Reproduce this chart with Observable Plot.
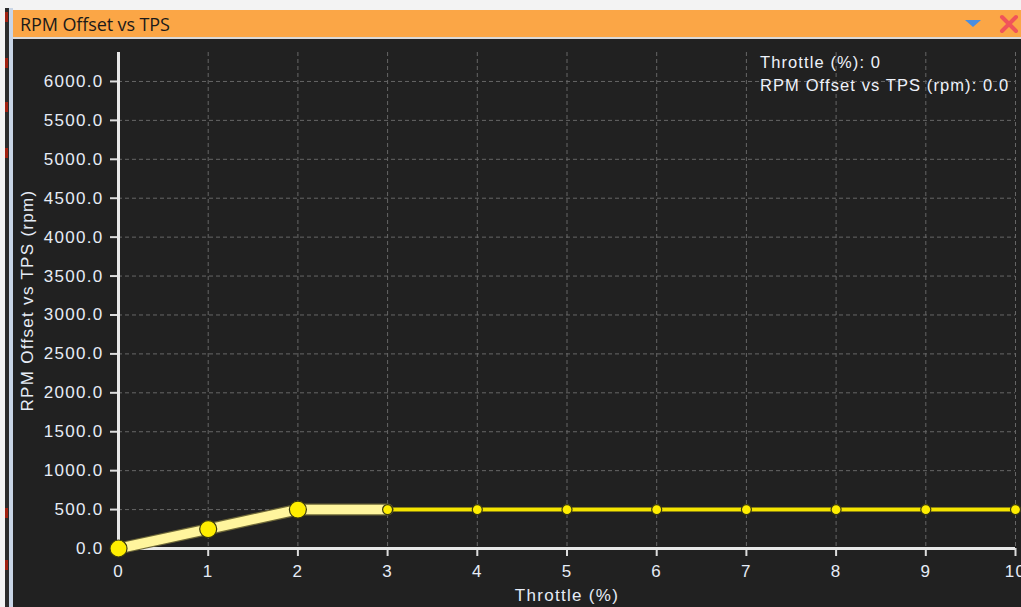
<!DOCTYPE html>
<html>
<head>
<meta charset="utf-8">
<script src="https://cdn.jsdelivr.net/npm/d3@7"></script>
<script src="https://cdn.jsdelivr.net/npm/@observablehq/plot@0.6"></script>
<style>
  body { margin:0; width:1021px; height:607px; overflow:hidden; background:#f3f3f3; position:relative; font-family:"Liberation Sans", Arial, sans-serif; }
  #leftstrip { position:absolute; left:5px; top:8px; width:4px; height:599px; background:#2b2b2b; }
  .redmark { position:absolute; left:5px; width:3px; height:10px; background:#a02010; }
  #border { position:absolute; left:9px; top:8px; width:4px; height:599px; background:#c8d5e6; }
  #titlebar { position:absolute; left:13px; top:10px; width:1008px; height:27px; background:#fba646; }
  #titlebar .t { position:absolute; left:7px; top:2px; font-size:18px; color:#1a1a1a; font-family:"Open Sans", "Liberation Sans", sans-serif; letter-spacing:-0.1px; }
  #sep { position:absolute; left:13px; top:37px; width:1008px; height:2px; background:#d9d9d9; }
  #chart { position:absolute; left:13px; top:39px; }
  #chart text { letter-spacing:1.3px; }
  #readout { position:absolute; left:760px; top:51px; color:#eef2fa; font-size:16.5px; line-height:23px; letter-spacing:1.1px; white-space:nowrap; }
</style>
</head>
<body>
<div id="leftstrip"></div>
<div class="redmark" style="top:12px"></div>
<div class="redmark" style="top:58px"></div>
<div class="redmark" style="top:102px"></div>
<div class="redmark" style="top:148px"></div>
<div class="redmark" style="top:508px"></div>
<div class="redmark" style="top:560px"></div>
<div id="border"></div>
<div id="titlebar">
  <span class="t">RPM Offset vs TPS</span>
  <svg style="position:absolute;left:950px;top:8px" width="20" height="12"><polygon points="2,2 18,2 10,9" fill="#4a8ee0"/></svg>
  <svg style="position:absolute;left:986px;top:4px" width="20" height="20"><path d="M3,3 L17,17 M17,3 L3,17" stroke="#f0545a" stroke-width="4" stroke-linecap="round"/></svg>
</div>
<div id="sep"></div>
<div id="chart"></div>
<div id="readout">Throttle (%): 0<br>RPM Offset vs TPS (rpm): 0.0</div>
<script>
const throttle = [0, 1, 2, 3, 4, 5, 6, 7, 8, 9, 10];
const rpm = [0, 250, 500, 500, 500, 500, 500, 500, 500, 500, 500];
const selected = [0, 1, 2];
const yTicks = [0, 500, 1000, 1500, 2000, 2500, 3000, 3500, 4000, 4500, 5000, 5500, 6000];
const xTicks = [0, 1, 2, 3, 4, 5, 6, 7, 8, 9, 10];

const data = throttle.map((x, i) => ({x, y: rpm[i], sel: selected.includes(i)}));
const highlight = data.slice(0, selected[selected.length - 1] + 2);

const chart = Plot.plot({
  width: 1008,
  height: 568,
  marginLeft: 105,
  marginRight: 6,
  marginTop: 13,
  marginBottom: 59,
  x: {domain: [0, 10]},
  y: {domain: [0, 6372]},
  style: {background: "#212121", color: "#e6ecf6", fontSize: "17px", fontFamily: "'Liberation Sans', Arial, sans-serif"},
  marks: [
    Plot.gridX(xTicks.filter(d => d > 0), {stroke: "#666666", strokeOpacity: 1, strokeDasharray: "4,3"}),
    Plot.gridY(yTicks.filter(d => d > 0), {stroke: "#666666", strokeOpacity: 1, strokeDasharray: "4,3"}),
    Plot.axisX(xTicks, {tickSize: 8, tickPadding: 8, stroke: "#dddddd", strokeWidth: 2, label: "Throttle (%)", labelAnchor: "center", labelArrow: "none", labelOffset: 52}),
    Plot.axisY(yTicks, {tickFormat: d3.format(".1f"), tickSize: 8, tickPadding: 7, stroke: "#dddddd", strokeWidth: 2, label: "RPM Offset vs TPS (rpm)", labelAnchor: "center", labelArrow: "none", labelOffset: 98}),
    Plot.ruleX([0], {stroke: "#e8e8e8", strokeWidth: 3}),
    Plot.ruleY([0], {stroke: "#e8e8e8", strokeWidth: 3}),
    Plot.line(data, {x: "x", y: "y", stroke: "#f4e400", strokeWidth: 4}),
    Plot.line(highlight, {x: "x", y: "y", stroke: "#6e6838", strokeWidth: 12}),
    Plot.line(highlight, {x: "x", y: "y", stroke: "#fff59d", strokeWidth: 9.5}),
    Plot.dot(data.filter(d => !d.sel), {x: "x", y: "y", r: 5, fill: "#ffee00", stroke: "#3a3a10", strokeWidth: 1.2}),
    Plot.dot(data.filter(d => d.sel), {x: "x", y: "y", r: 8.5, fill: "#ffee00", stroke: "#3a3a10", strokeWidth: 1.2})
  ]
});
document.getElementById("chart").appendChild(chart);
</script>
</body>
</html>
